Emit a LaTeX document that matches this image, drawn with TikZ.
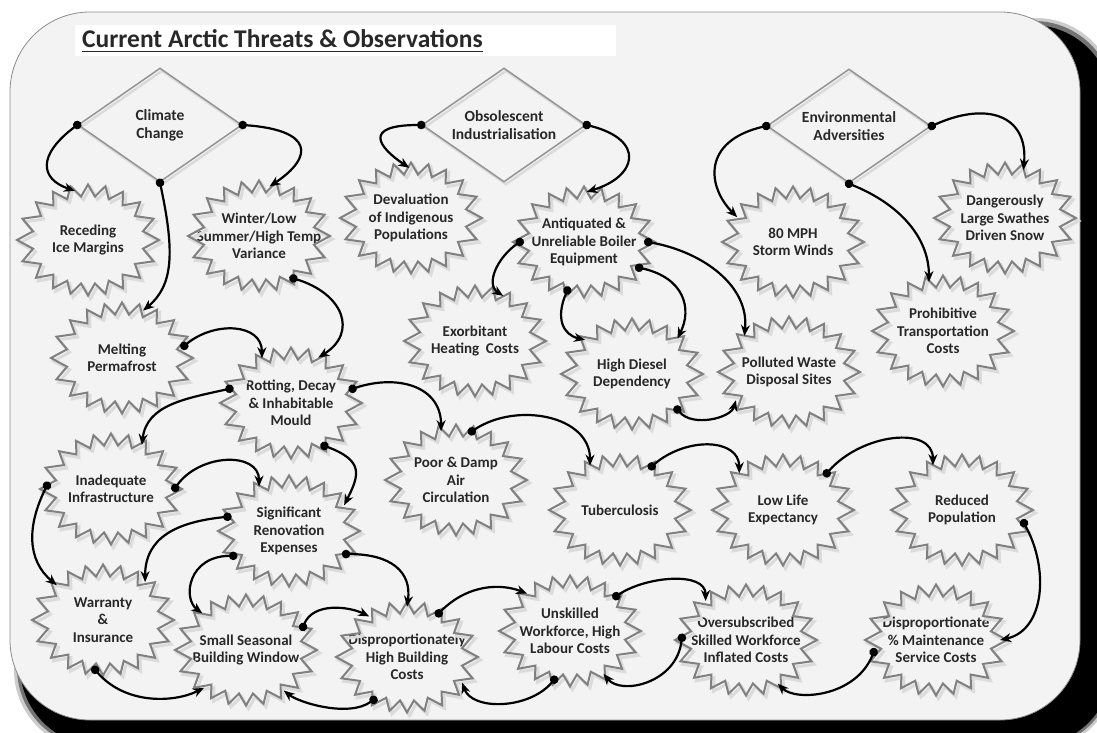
\documentclass[tikz,border=0pt]{standalone}
\usepackage{fontspec}
\setmainfont{Carlito}
\usetikzlibrary{shapes.geometric,arrows.meta,calc}
\definecolor{bg}{RGB}{243,243,243}
\definecolor{txt}{RGB}{40,40,40}
\tikzset{
  dia/.style={diamond, draw=black!42, line width=1.5pt, minimum width=164pt, minimum height=114pt, inner sep=0pt,
    preaction={draw=black!14, line width=2.5pt, transform canvas={shift={(2pt,-2.5pt)}}}},
  bn/.style={ellipse, minimum width=128pt, minimum height=100pt, inner sep=0pt},
  bt/.style={align=center, font=\bfseries\fontsize{15}{17.5}\selectfont, text=txt, inner sep=0pt},
  dt/.style={align=center, font=\bfseries\fontsize{15.5}{18}\selectfont, text=txt, inner sep=0pt},
  burstline/.style={draw=black!50, line width=2pt, line join=miter},
  burstshade/.style={draw=black!14, line width=3pt},
  cn/.style={line width=2.2pt, draw=black, {Circle[length=8.5pt]}-{Stealth[length=11pt,width=9pt]}, shorten <=-4.25pt},
}
\newcommand\burst[1]{%
  \begin{scope}[shift={(#1)}]
    \draw[burstshade] plot[samples=40,domain=0:39,variable=\t]
      ({2.5+(1-0.21*mod(round(\t),2))*3940.5*cos(9*\t+90)/sqrt((55.5*cos(9*\t+90))^2+(71*sin(9*\t+90))^2)},
       {3+(1-0.21*mod(round(\t),2))*3940.5*sin(9*\t+90)/sqrt((55.5*cos(9*\t+90))^2+(71*sin(9*\t+90))^2)}) -- cycle;
    \draw[burstline] plot[samples=40,domain=0:39,variable=\t]
      ({(1-0.21*mod(round(\t),2))*3940.5*cos(9*\t+90)/sqrt((55.5*cos(9*\t+90))^2+(71*sin(9*\t+90))^2)},
       {(1-0.21*mod(round(\t),2))*3940.5*sin(9*\t+90)/sqrt((55.5*cos(9*\t+90))^2+(71*sin(9*\t+90))^2)}) -- cycle;
  \end{scope}}
\begin{document}
\begin{tikzpicture}[x=1pt,y=-1pt]
\useasboundingbox (0,0) rectangle (1097,733);
\clip (0,0) rectangle (1097,733);
% frame with shadow
\fill[black!20, rounded corners=80pt] (14,18) rectangle (1116,750);
\fill[black!55, rounded corners=80pt] (17,21) rectangle (1114,748);
\fill[black, rounded corners=80pt] (20,25) rectangle (1112,746);
\filldraw[fill=bg, draw=black!45, line width=0.8pt, rounded corners=80pt] (10,12) rectangle (1080,720);
% title
\fill[white] (75,25) rectangle (616,56);
\node[anchor=base west, inner sep=0pt, text=txt, font=\bfseries\fontsize{25.5}{30}\selectfont] (title) at (82,48) {Current Arctic Threats \& Observations};
\draw[txt, line width=1.8pt] ([yshift=-3.5pt]title.base west) -- ([yshift=-3.5pt]title.base east);
% diamonds
\node[dia, label={[dt]center:{Climate\\Change}}] (cc) at (160,125) {};
\node[dia, label={[dt]center:{Obsolescent\\Industrialisation}}] (ob) at (504,125) {};
\node[dia, label={[dt]center:{Environmental\\Adversities}}] (env) at (849,126) {};
% bursts
\node[bn, label={[bt]center:{Receding\\Ice Margins}}] (ice) at (88,240) {};
\node[bn, label={[bt]center:{Winter/Low\\Summer/High Temp\\Variance}}] (win) at (259,236) {};
\node[bn, label={[bt]center:{Devaluation\\of Indigenous\\Populations}}] (dev) at (411,218) {};
\node[bn, label={[bt]center:{Antiquated \&\\Unreliable Boiler\\Equipment}}] (ant) at (584,242) {};
\node[bn, label={[bt]center:{Exorbitant\\Heating~ Costs}}] (exo) at (475,341) {};
\node[bn, label={[bt]center:{High Diesel\\Dependency}}] (die) at (632,374) {};
\node[bn, label={[bt]center:{Polluted Waste\\Disposal Sites}}] (pol) at (789,372) {};
\node[bn, label={[bt]center:{80 MPH\\Storm Winds}}] (mph) at (793,242) {};
\node[bn, label={[bt]center:{Dangerously\\Large Swathes\\Driven Snow}}] (snow) at (1005,218) {};
\node[bn, label={[bt]center:{Prohibitive\\Transportation\\Costs}}] (pro) at (943,331) {};
\node[bn, label={[bt]center:{Melting\\Permafrost}}] (melt) at (122,358) {};
\node[bn, label={[bt]center:{Rotting, Decay\\\& Inhabitable\\Mould}}] (rot) at (291,403) {};
\node[bn, label={[bt]center:{Poor \& Damp\\Air\\Circulation}}] (poor) at (456,480) {};
\node[bn, label={[bt]center:{Tuberculosis}}] (tb) at (620,510) {};
\node[bn, label={[bt]center:{Low Life\\Expectancy}}] (life) at (783,510) {};
\node[bn, label={[bt]center:{Reduced\\Population}}] (pop) at (962,510) {};
\node[bn, label={[bt]center:{Inadequate\\Infrastructure}}] (inf) at (111,489) {};
\node[bn, label={[bt]center:{Significant\\Renovation\\Expenses}}] (ren) at (289,531) {};
\node[bn, label={[bt]center:{Warranty\\\&\\Insurance}}] (war) at (103,620) {};
\node[bn, label={[bt]center:{Small Seasonal\\Building Window}}] (sea) at (246,650) {};
\node[bn, label={[bt]center:{Disproportionately\\High Building\\Costs}}] (dhb) at (407,657) {};
\node[bn, label={[bt]center:{Unskilled\\Workforce, High\\Labour Costs}}] (uns) at (570,631) {};
\node[bn, label={[bt]center:{Oversubscribed\\Skilled Workforce\\Inflated Costs}}] (ovs) at (746,640) {};
\node[bn, label={[bt]center:{Disproportionate\\\% Maintenance\\Service Costs}}] (dmc) at (936,640) {};
\foreach \n in {ice,win,dev,ant,exo,die,pol,mph,snow,pro,melt,rot,poor,tb,life,pop,inf,ren,war,sea,dhb,uns,ovs,dmc}{\burst{\n}}
% connectors
\draw[cn] (cc.west) .. controls +(-40,30) and +(-35,-12) .. (ice.105);
\draw[cn] (cc.east) .. controls +(70,5) and +(45,-30) .. (win.78);
\draw[cn] (cc.south) .. controls +(15,70) and +(30,-25) .. (melt.66);
\draw[cn] (ob.west) .. controls +(-60,0) and +(-30,-20) .. (dev.92);
\draw[cn] (ob.east) .. controls +(60,15) and +(50,-15) .. (ant.87);
\draw[cn] (env.west) .. controls +(-65,15) and +(-30,-30) .. (mph.156);
\draw[cn] (env.east) .. controls +(55,-25) and +(5,-55) .. (snow.69);
\draw[cn] (env.south) .. controls +(50,20) and +(0,-45) .. (pro.106);
\draw[cn] (win.-51) .. controls +(50,15) and +(40,-25) .. (rot.59);
\draw[cn] (melt.11) .. controls +(30,-25) and +(0,-35) .. (rot.123);
\draw[cn] (rot.167) .. controls +(-45,10) and +(5,-40) .. (inf.55);
\draw[cn] (rot.13) .. controls +(45,-15) and +(0,-45) .. (poor.107);
\draw[cn] (rot.-52) .. controls +(40,15) and +(15,-30) .. (ren.25);
\draw[cn] (inf.1) .. controls +(25,-35) and +(0,-35) .. (ren.124);
\draw[cn] (inf.177) .. controls +(-20,40) and +(-30,-25) .. (war.143);
\draw[cn] (ren.167) .. controls +(-50,5) and +(0,-45) .. (war.42);
\draw[cn] (ren.204) .. controls +(-45,0) and +(-20,-15) .. (sea.140);
\draw[cn] (ren.-22) .. controls +(45,0) and +(5,-35) .. (dhb.90);
\draw[cn] (sea.22) .. controls +(10,-25) and +(-20,-10) .. (dhb.133);
\draw[cn] (war.261) .. controls +(30,35) and +(-30,15) .. (sea.222);
\draw[cn] (dhb.232) .. controls +(-25,18) and +(15,12) .. (sea.-47);
\draw[cn] (dhb.54) .. controls +(30,-30) and +(-25,-10) .. (uns.139);
\draw[cn] (uns.252) .. controls +(-25,30) and +(10,28) .. (dhb.-25);
\draw[cn] (uns.37) .. controls +(30,-20) and +(0,-30) .. (ovs.136);
\draw[cn] (ovs.178) .. controls +(-5,45) and +(18,22) .. (uns.-52);
\draw[cn] (dmc.191) .. controls +(-18,45) and +(18,18) .. (ovs.-54);
\draw[cn] (pop.-12) .. controls +(25,45) and +(45,-10) .. (dmc.0);
\draw[cn] (ant.180) .. controls +(-22,15) and +(-18,-12) .. (exo.58);
\draw[cn] (ant.251) .. controls +(-12,28) and +(-22,-5) .. (die.144);
\draw[cn] (ant.-25) .. controls +(45,10) and +(15,-30) .. (die.38);
\draw[cn] (ant.0) .. controls +(55,10) and +(5,-50) .. (pol.141);
\draw[cn] (die.-38) .. controls +(15,18) and +(-5,18) .. (pol.208);
\draw[cn] (poor.72) .. controls +(45,-30) and +(0,-50) .. (tb.124);
\draw[cn] (tb.54) .. controls +(35,-30) and +(0,-35) .. (life.140);
\draw[cn] (life.40) .. controls +(35,-40) and +(0,-40) .. (pop.123);
\end{tikzpicture}
\end{document}
